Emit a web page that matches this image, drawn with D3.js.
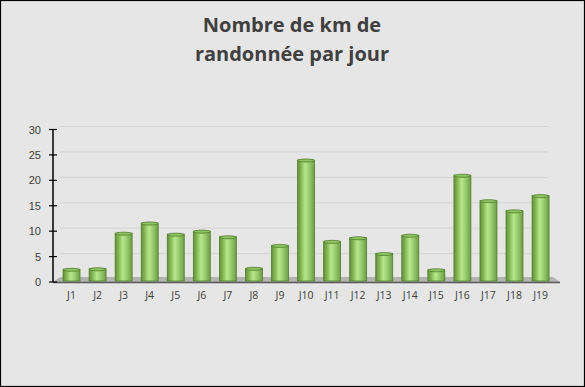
<!DOCTYPE html>
<html lang="fr">
<head>
<meta charset="utf-8">
<title>Nombre de km de randonnée par jour</title>
<script src="https://cdn.jsdelivr.net/npm/d3@7"></script>
<style>
  body{margin:0;background:#fff;}
  svg{display:block;font-family:"Open Sans","Noto Sans",sans-serif;}
</style>
</head>
<body>
<div id="chart"></div>
<script>
// données
var jours = ["J1","J2","J3","J4","J5","J6","J7","J8","J9","J10","J11","J12","J13","J14","J15","J16","J17","J18","J19"]
var km = [2.5,2.6,9.6,11.6,9.4,10,8.9,2.7,7.2,24,8,8.7,5.6,9.2,2.4,21,16,14,17]
var yTicks = [0,5,10,15,20,25,30]
var titre = ["Nombre de km de","randonnée par jour"]

var w = 585, h = 387
var y0 = 282, y1 = 129.5   // pixel de 0 et de 30

var svg = d3.select("#chart").append("svg")
    .attr("width", w).attr("height", h)

svg.append("rect")
    .attr("x",0.5).attr("y",0.5).attr("width",w-1).attr("height",h-1)
    .attr("fill","#e6e6e6").attr("stroke","#000").attr("stroke-width",1.2)

// titre
svg.append("text")
    .attr("x",292).attr("y",32)
    .attr("text-anchor","middle")
    .attr("fill","#404040")
    .style("font-size","20px").style("font-weight","bold")
    .selectAll("tspan").data(titre).enter().append("tspan")
    .attr("x",292).attr("dy",function(d,i){ return i==0 ? 0 : 29 })
    .text(function(d){ return d })

var yScale = d3.scaleLinear().domain([0,30]).range([y0,y1])
var xScale = d3.scaleBand()
    .domain(jours)
    .range([58.5,553.6])
    .paddingInner(0.35)
    .paddingOuter(0.175)

var defs = svg.append("defs")
var grad = defs.append("linearGradient").attr("id","vert")
    .attr("x1","0").attr("x2","1").attr("y1","0").attr("y2","0")
grad.append("stop").attr("offset","0%").attr("stop-color","#5f9236")
grad.append("stop").attr("offset","18%").attr("stop-color","#7fb24e")
grad.append("stop").attr("offset","45%").attr("stop-color","#b4e88a")
grad.append("stop").attr("offset","65%").attr("stop-color","#9ed173")
grad.append("stop").attr("offset","100%").attr("stop-color","#6c9f41")

// quadrillage sur la paroi du fond
svg.append("g")
    .selectAll("line").data(yTicks.slice(1)).enter().append("line")
    .attr("x1",60).attr("x2",548)
    .attr("y1",function(d){ return yScale(d)-3 })
    .attr("y2",function(d){ return yScale(d)-3 })
    .attr("stroke","#d6d6d6").attr("stroke-width",1.2)

// sol
svg.append("path")
    .attr("d","M53," + y0 + "L560," + y0 + "L553," + (y0-5) + "L60," + (y0-5) + "Z")
    .attr("fill","#b3b3b3")

// barres
var bars = svg.append("g").selectAll("g").data(km).enter().append("g")
bars.append("rect")
    .attr("x",function(d,i){ return xScale(jours[i]) })
    .attr("y",function(d){ return yScale(d) })
    .attr("width",xScale.bandwidth())
    .attr("height",function(d){ return y0 - 1 - yScale(d) })
    .attr("fill","url(#vert)")
    .attr("stroke","#4f7d2a").attr("stroke-width",0.8)
bars.append("ellipse")
    .attr("cx",function(d,i){ return xScale(jours[i]) + xScale.bandwidth()/2 })
    .attr("cy",function(d){ return yScale(d) + 0.5 })
    .attr("rx",xScale.bandwidth()/2).attr("ry",1.5)
    .attr("fill","#8fc462").attr("stroke","#4f7d2a").attr("stroke-width",0.8)

// axe horizontal
svg.append("line")
    .attr("x1",53).attr("x2",560).attr("y1",y0+0.5).attr("y2",y0+0.5)
    .attr("stroke","#595959").attr("stroke-width",1.5)

// axe vertical
var yAxis = d3.axisLeft(yScale).tickValues(yTicks).tickSize(0).tickPadding(12)
var gy = svg.append("g").attr("transform","translate(53,0)").call(yAxis)
gy.select(".domain").remove()
gy.selectAll("text").attr("fill","#404040").style("font-size","11px")
svg.append("line").attr("x1",53).attr("x2",53).attr("y1",y1).attr("y2",y0)
    .attr("stroke","#000").attr("stroke-width",1.5)
svg.append("g").selectAll("line").data(yTicks).enter().append("line")
    .attr("x1",49).attr("x2",57)
    .attr("y1",function(d){ return yScale(d) }).attr("y2",function(d){ return yScale(d) })
    .attr("stroke","#000").attr("stroke-width",1.2)

// étiquettes des jours
svg.append("g").selectAll("text").data(jours).enter().append("text")
    .attr("x",function(d){ return xScale(d) + xScale.bandwidth()/2 })
    .attr("y",299)
    .attr("text-anchor","middle")
    .attr("fill","#404040")
    .style("font-size","10.5px")
    .text(function(d){ return d })
</script>
</body>
</html>
